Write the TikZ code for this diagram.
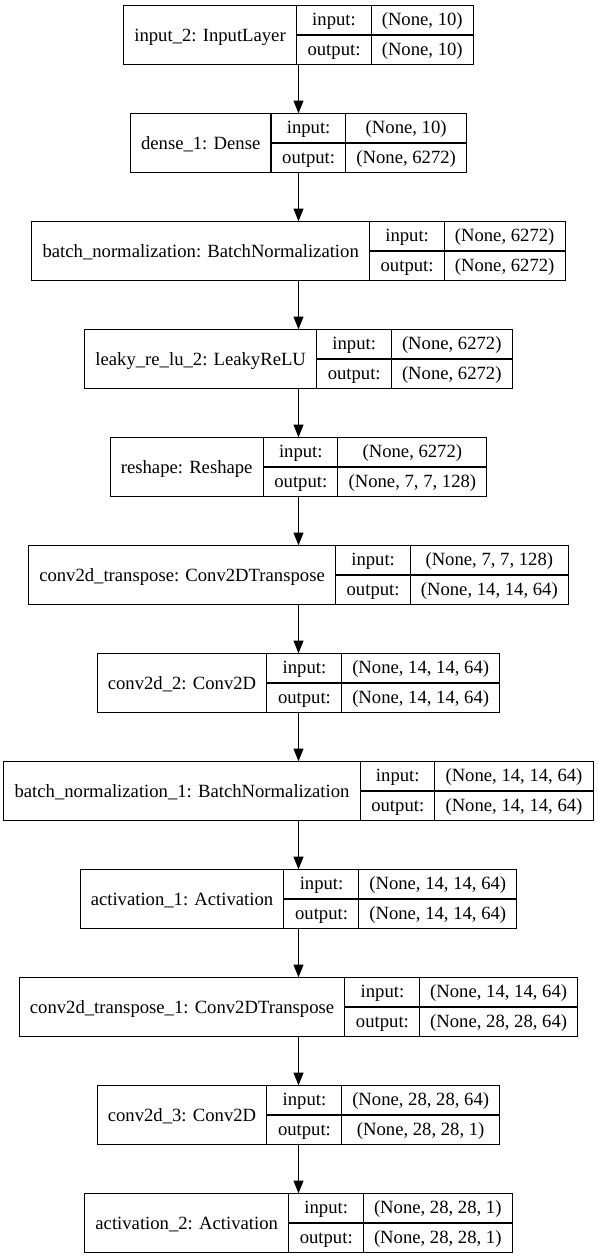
\documentclass[tikz,border=0pt]{standalone}
\usepackage{fontspec}
\setmainfont{Liberation Serif}
\usepackage{tikz}
\usetikzlibrary{arrows.meta}
\setlength{\tabcolsep}{8pt}
\setlength{\arrayrulewidth}{0.8pt}
\newcommand{\rowstrut}{\rule[-6.5pt]{0pt}{21.5pt}}
\newcommand{\layerrec}[3]{%
  \begin{tabular}{c|@{}c@{}}
    \raisebox{-1.6pt}{#1} &
    \begin{tabular}{c|c}
      input:\rowstrut & #2\\ \hline
      output:\rowstrut & #3
    \end{tabular}
  \end{tabular}}

\begin{document}
\begin{tikzpicture}[
  x=0.75pt,y=-0.75pt,
  rec/.style={draw=black,line width=0.8pt,inner sep=0pt,
              font=\fontsize{14pt}{16.8pt}\selectfont},
  flow/.style={-{Triangle[length=9.5pt,width=7.5pt]},line width=0.8pt,black}
]
\useasboundingbox (0,0) rectangle (598,1259);
\node[rec] (inp)    at (298.5,35)   {\layerrec{input\_2: InputLayer}{(None, 10)}{(None, 10)}};
\node[rec] (dense)  at (298.5,143)  {\layerrec{dense\_1: Dense}{(None, 10)}{(None, 6272)}};
\node[rec] (bn)     at (298.5,251)  {\layerrec{batch\_normalization: BatchNormalization}{(None, 6272)}{(None, 6272)}};
\node[rec] (leaky)  at (298.5,359)  {\layerrec{leaky\_re\_lu\_2: LeakyReLU}{(None, 6272)}{(None, 6272)}};
\node[rec] (resh)   at (298.5,467)  {\layerrec{reshape: Reshape}{(None, 6272)}{(None, 7, 7, 128)}};
\node[rec] (convt)  at (298.5,575)  {\layerrec{conv2d\_transpose: Conv2DTranspose}{(None, 7, 7, 128)}{(None, 14, 14, 64)}};
\node[rec] (convb)  at (298.5,683)  {\layerrec{conv2d\_2: Conv2D}{(None, 14, 14, 64)}{(None, 14, 14, 64)}};
\node[rec] (bnb)    at (298.5,791)  {\layerrec{batch\_normalization\_1: BatchNormalization}{(None, 14, 14, 64)}{(None, 14, 14, 64)}};
\node[rec] (acta)   at (298.5,899)  {\layerrec{activation\_1: Activation}{(None, 14, 14, 64)}{(None, 14, 14, 64)}};
\node[rec] (convtb) at (298.5,1007) {\layerrec{conv2d\_transpose\_1: Conv2DTranspose}{(None, 14, 14, 64)}{(None, 28, 28, 64)}};
\node[rec] (convc)  at (298.5,1115) {\layerrec{conv2d\_3: Conv2D}{(None, 28, 28, 64)}{(None, 28, 28, 1)}};
\node[rec] (actb)   at (298.5,1223) {\layerrec{activation\_2: Activation}{(None, 28, 28, 1)}{(None, 28, 28, 1)}};
% edges
\foreach \a/\b in {inp/dense,dense/bn,bn/leaky,leaky/resh,resh/convt,convt/convb,
                   convb/bnb,bnb/acta,acta/convtb,convtb/convc,convc/actb}
  \draw[flow] (\a) -- (\b);
\end{tikzpicture}
\end{document}
